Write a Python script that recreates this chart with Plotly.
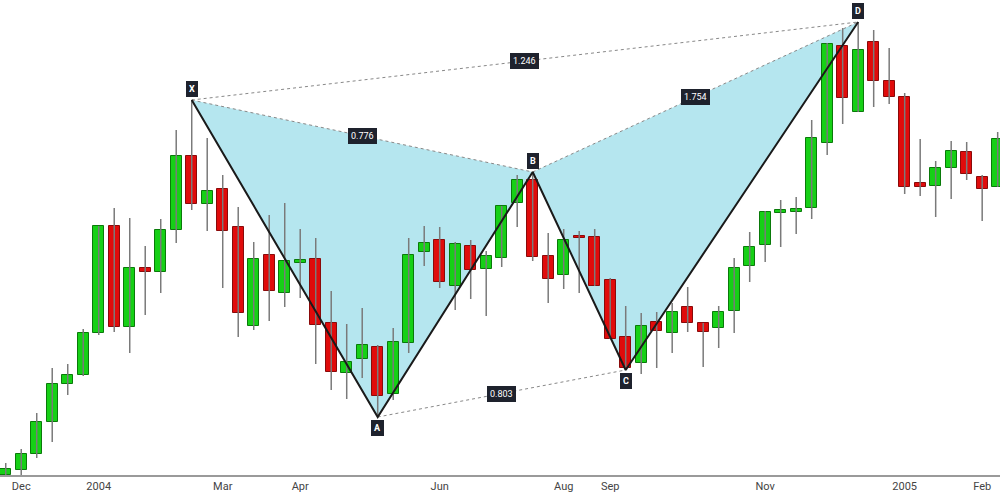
import plotly.graph_objects as go

# weekly candles (price units), left to right
opens = [25, 30, 46, 78, 116, 125, 167, 274, 173, 232, 228, 270, 344, 296, 311, 273, 174, 245, 207, 237,
         241, 177, 127, 141, 153, 106, 157, 248, 260, 214, 254, 231, 242, 297, 320, 244, 225, 264, 263, 220,
         163, 137, 178, 167, 193, 177, 172, 189, 234, 255, 287, 288, 292, 357, 454, 388, 458, 419, 403, 317,
         314, 332, 348, 323, 313]
highs = [37, 51, 87, 132, 136, 171, 274, 292, 282, 254, 281, 370, 400, 362, 325, 293, 258, 285, 297, 271,
         262, 209, 176, 192, 155, 172, 262, 274, 273, 258, 260, 249, 294, 325, 328, 267, 271, 269, 271, 222,
         194, 187, 188, 197, 213, 177, 194, 242, 268, 289, 300, 303, 380, 457, 472, 478, 470, 452, 407, 361,
         339, 359, 358, 325, 368]
lows = [24, 25, 42, 58, 105, 124, 165, 168, 147, 185, 207, 257, 290, 269, 212, 163, 170, 179, 193, 202,
        136, 110, 101, 122, 83, 100, 147, 234, 212, 190, 201, 184, 233, 273, 239, 197, 211, 207, 214, 161,
        130, 126, 132, 147, 168, 133, 152, 167, 218, 238, 253, 266, 281, 345, 376, 388, 393, 396, 306, 304,
        283, 301, 320, 279, 313]
closes = [31, 46, 78, 116, 125, 167, 274, 173, 232, 228, 270, 344, 296, 309, 269, 187, 241, 209, 239, 240,
          175, 128, 138, 155, 104, 158, 245, 257, 218, 256, 230, 244, 294, 320, 243, 221, 260, 262, 214, 161,
          132, 174, 169, 188, 177, 168, 188, 232, 253, 288, 290, 291, 362, 456, 402, 450, 419, 403, 313, 313,
          332, 349, 326, 311, 361]

tick_pos = [1, 6, 14, 19, 28, 36, 39, 49, 58, 63]
tick_text = ["Dec", "2004", "Mar", "Apr", "Jun", "Aug", "Sep", "Nov", "2005", "Feb"]

# harmonic pattern pivots
pt_names = ["X", "A", "B", "C", "D"]
pt_idx = [12, 24, 34, 40, 55]
pt_price = [400, 83, 328, 130, 478]
ratios = {("X", "B"): "0.776", ("A", "C"): "0.803", ("B", "D"): "1.754", ("X", "D"): "1.246"}

GREEN, RED = "#16d016", "#e00b0b"
x = list(range(len(opens)))
up = [c >= o for o, c in zip(opens, closes)]

fig = go.Figure()

# filled triangles XAB and BCD, drawn below the candles
P = dict(zip(pt_names, zip(pt_idx, pt_price)))
for tri in (["X", "A", "B"], ["B", "C", "D"]):
    path = "M " + " L ".join(f"{P[n][0]},{P[n][1]}" for n in tri) + " Z"
    fig.add_shape(type="path", path=path, xref="x", yref="y", layer="below",
                  fillcolor="#b5e6ef", line=dict(width=0))

# wicks
wx, wy = [], []
for i, h, l in zip(x, highs, lows):
    wx += [i, i, None]
    wy += [l, h, None]
fig.add_trace(go.Scatter(x=wx, y=wy, mode="lines", line=dict(color="#7a7a7a", width=1.5), hoverinfo="skip"))

# bodies
base = [min(o, c) for o, c in zip(opens, closes)]
size = [max(abs(c - o), 2) for o, c in zip(opens, closes)]
fig.add_trace(go.Bar(x=x, y=size, base=base, width=0.72,
                     marker=dict(color=[GREEN if u else RED for u in up],
                                 line=dict(color=["#0a7a0a" if u else "#8a0a0a" for u in up], width=1))))

# dotted ratio lines
for (a, b), txt in ratios.items():
    fig.add_trace(go.Scatter(x=[P[a][0], P[b][0]], y=[P[a][1], P[b][1]], mode="lines",
                             line=dict(color="#888888", width=1, dash="dot"), hoverinfo="skip"))
    fig.add_annotation(x=(P[a][0] + P[b][0]) / 2, y=(P[a][1] + P[b][1]) / 2, text=txt, showarrow=False,
                       bgcolor="#1e222d", bordercolor="#1e222d", borderpad=2,
                       font=dict(color="white", size=9, family="Roboto"))

# zigzag
fig.add_trace(go.Scatter(x=pt_idx, y=pt_price, mode="lines", line=dict(color="#1a1a1a", width=2), hoverinfo="skip"))
for k, (n, i, p) in enumerate(zip(pt_names, pt_idx, pt_price)):
    above = k % 2 == 0
    fig.add_annotation(x=i, y=p, text=f"<b>{n}</b>", showarrow=False, yshift=11 if above else -11,
                       bgcolor="#1e222d", bordercolor="#1e222d", borderpad=2,
                       font=dict(color="white", size=9, family="Roboto"))

fig.update_layout(width=1000, height=500, margin=dict(l=0, r=0, t=0, b=25),
                  paper_bgcolor="white", plot_bgcolor="white", showlegend=False, bargap=0)
fig.update_xaxes(range=[-0.37, 64.15], tickvals=tick_pos, ticktext=tick_text, showgrid=False,
                 showline=True, linecolor="#9a9a9a", linewidth=1.5, ticks="",
                 tickfont=dict(color="#444", size=11, family="Roboto"), zeroline=False)
fig.update_yaxes(range=[25, 500], visible=False, showgrid=False)

fig.write_html("out.html", config={"displayModeBar": False},
               post_script="document.body.style.margin='0';")
